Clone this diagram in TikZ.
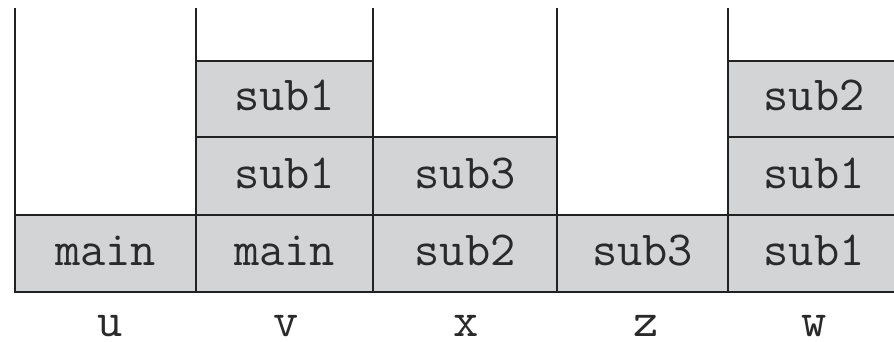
\documentclass[tikz,border=0pt]{standalone}
\usepackage{fontspec}
\begin{document}
\begin{tikzpicture}[x=1pt,y=-1pt,
  cell/.style={draw=linec, fill=cellgray, line width=1.6pt, inner sep=0pt, outer sep=0pt,
    text=textc, font=\ttfamily\fontsize{49}{49}\selectfont, text height=24pt, text depth=0pt},
  lbl/.style={text=textc, font=\ttfamily\fontsize{49}{49}\selectfont, inner sep=0pt, anchor=base},
  wall/.style={draw=linec, line width=1.6pt}]
\definecolor{cellgray}{HTML}{D3D4D6}
\definecolor{linec}{HTML}{222222}
\definecolor{textc}{HTML}{2A2A2A}
\useasboundingbox (0,0) rectangle (894,342);
\fill[white] (0,0) rectangle (894,342);
% column u
\node[cell, minimum width=181pt, minimum height=77pt] (u0) at (105.5,253.5) {main};
% column v
\node[cell, minimum width=177pt, minimum height=77pt] (v0) at (284.5,253.5) {main};
\node[cell, minimum width=177pt, minimum height=78pt] (v1) at (284.5,176) {sub1};
\node[cell, minimum width=177pt, minimum height=76pt] (v2) at (284.5,99) {sub1};
% column x
\node[cell, minimum width=184pt, minimum height=77pt] (x0) at (465,253.5) {sub2};
\node[cell, minimum width=184pt, minimum height=78pt] (x1) at (465,176) {sub3};
% column z
\node[cell, minimum width=171pt, minimum height=77pt] (z0) at (642.5,253.5) {sub3};
% column w
\node[cell, minimum width=172pt, minimum height=77pt] (w0) at (814,253.5) {sub1};
\node[cell, minimum width=172pt, minimum height=78pt] (w1) at (814,176) {sub1};
\node[cell, minimum width=172pt, minimum height=76pt] (w2) at (814,99) {sub2};
% walls
\coordinate (t0) at (15,8);
\coordinate (t1) at (196,8);
\coordinate (t2) at (373,8);
\coordinate (t3) at (557,8);
\coordinate (t4) at (728,8);
\draw[wall] (t0) -- (u0.south west);
\draw[wall] (t1) -- (v0.south west);
\draw[wall] (t2) -- (x0.south west);
\draw[wall] (t3) -- (z0.south west);
\draw[wall] (t4) -- (w0.south west);
\draw[wall] (u0.south west) -- (w0.south east);
% labels
\node[lbl] (lu) at (110,336) {u};
\node[lbl] (lv) at (286,336) {v};
\node[lbl] (lx) at (466,336) {x};
\node[lbl] (lz) at (646,336) {z};
\node[lbl] (lw) at (814,336) {w};
\end{tikzpicture}
\end{document}
